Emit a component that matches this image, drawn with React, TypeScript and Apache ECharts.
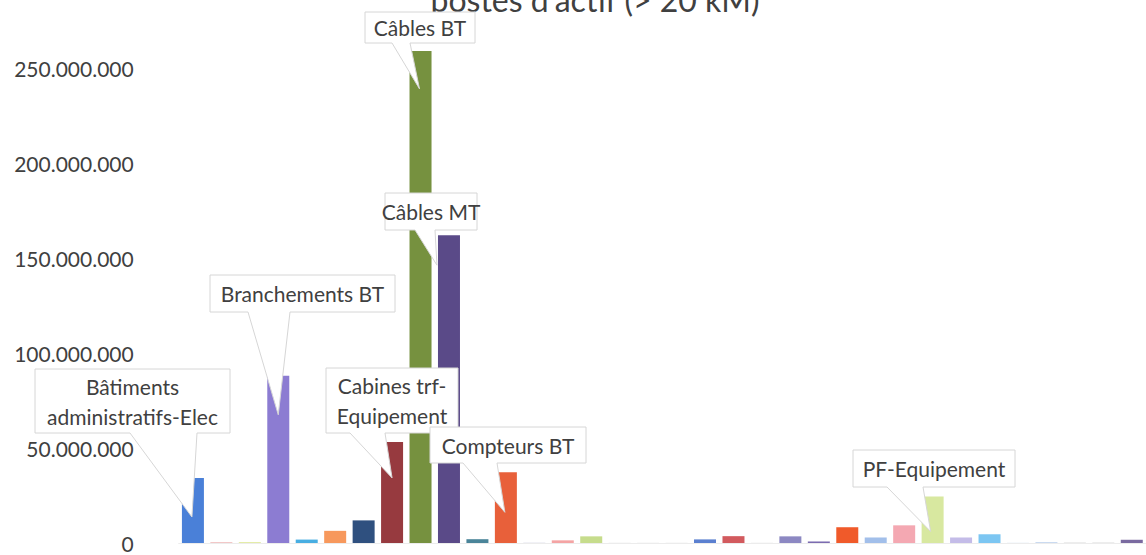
import React, { useEffect, useRef } from "react";
import * as echarts from "echarts";

const categories: string[] = [
  "Bâtiments administratifs-Elec",
  "Bâtiments administratifs-Génie civil",
  "Bâtiments techniques",
  "Branchements BT",
  "Branchements MT",
  "Cabines trf-Génie civil",
  "Cabines trf-Bâtiments",
  "Cabines trf-Equipement",
  "Câbles BT",
  "Câbles MT",
  "Câbles HT",
  "Compteurs BT",
  "Compteurs MT",
  "Disjoncteurs",
  "Eclairage public",
  "Equipements divers",
  "Groupes électrogènes",
  "Informatique",
  "Lignes aériennes BT",
  "Lignes aériennes MT",
  "Matériel de bureau",
  "Matériel de transport",
  "Mobilier",
  "Outillage",
  "PF-Génie civil",
  "PF-Bâtiments",
  "PF-Equipement",
  "Postes HTA",
  "Postes sources",
  "Protection",
  "Réseaux télécom",
  "Terrains",
  "Transformateurs",
  "Véhicules",
];

const values: number[] = [
  34200000, 500000, 500000, 88000000, 1800000, 6400000, 11900000, 53200000,
  259000000, 162000000, 2000000, 37200000, 300000, 1400000, 3500000, 200000,
  200000, 200000, 1900000, 3600000, 200000, 3500000, 800000, 8300000,
  2900000, 9300000, 24500000, 2900000, 4600000, 200000, 500000, 300000,
  300000, 1700000,
];

const barColors: string[] = [
  "#4a80d8", "#f2c4c4", "#e4eca8", "#8c7cd2", "#48aee2", "#f7985c", "#2f507f",
  "#973a3f", "#76913f", "#5a4a88", "#4a8499", "#e8603a", "#e6e6f0", "#f4a4a4",
  "#c6dc8c", "#eeeeee", "#eeeeee", "#eeeeee", "#5b80d0", "#d25a5e", "#eeeeee",
  "#8c88c2", "#7b6bb0", "#f05a2a", "#a2bfea", "#f4a8b2", "#d8e8a0", "#c4bce8",
  "#7cc6f2", "#e8eef8", "#c8d8f0", "#e0e0e0", "#e0e0e0", "#7a6aa0",
];

const yTickStep = 50000000;
const yMax = 300000000;
const titleText = "postes d'actif (> 20 kM)";

type Callout = {
  cat: string;
  text: string;
  box: [number, number, number, number];
  base: [number, number];
  tip: [number, number];
};

const callouts: Callout[] = [
  { cat: "Bâtiments administratifs-Elec", text: "Bâtiments\nadministratifs-Elec", box: [35, 369, 230, 433], base: [130, 197], tip: [-1, 39] },
  { cat: "Branchements BT", text: "Branchements BT", box: [210, 275, 395, 312], base: [248, 290], tip: [0, 39] },
  { cat: "Câbles BT", text: "Câbles BT", box: [365, 12, 475, 43], base: [392, 410], tip: [-1, 38] },
  { cat: "Câbles MT", text: "Câbles MT", box: [385, 193, 477, 230], base: [415, 435], tip: [-12, 30] },
  { cat: "Cabines trf-Equipement", text: "Cabines trf-\nEquipement", box: [326, 368, 458, 433], base: [350, 385], tip: [0, 36] },
  { cat: "Compteurs BT", text: "Compteurs BT", box: [430, 427, 586, 463], base: [463, 497], tip: [-1, 40] },
  { cat: "PF-Equipement", text: "PF-Equipement", box: [853, 450, 1015, 487], base: [887, 923], tip: [-2, 35] },
];

const fmt = (v: number) =>
  v >= yMax ? "" : String(Math.round(v)).replace(/\B(?=(\d{3})+(?!\d))/g, ".");

const OFF = 40; // the chart canvas starts 40px above the visible page

export default function App() {
  const ref = useRef<HTMLDivElement>(null);
  useEffect(() => {
    if (!ref.current) return;
    const chart = echarts.init(ref.current, undefined, { renderer: "svg" });
    const font = "Lato";
    chart.setOption({
      animation: false,
      backgroundColor: "#ffffff",
      grid: { left: 178.7, right: -5, top: 13, bottom: 12, containLabel: false },
      xAxis: {
        type: "category",
        data: categories,
        axisTick: { show: false },
        axisLabel: { show: false },
        axisLine: { show: true, lineStyle: { color: "#ececec", width: 1 } },
      },
      yAxis: {
        type: "value",
        min: 0,
        max: yMax,
        interval: yTickStep,
        splitLine: { show: false },
        axisLine: { show: false },
        axisTick: { show: false },
        axisLabel: {
          formatter: fmt,
          color: "#404040",
          fontFamily: font,
          fontSize: 21,
          margin: 45,
        },
      },
      series: [
        {
          type: "bar",
          barWidth: 22,
          data: values.map((v, i) => ({ value: v, itemStyle: { color: barColors[i] } })),
        },
      ],
    });

    const elements: any[] = [];
    callouts.forEach((c) => {
      const idx = categories.indexOf(c.cat);
      const p = chart.convertToPixel({ gridIndex: 0 }, [idx, values[idx]]) as number[];
      const tx = p[0] + c.tip[0];
      const ty = p[1] + c.tip[1];
      const x0 = c.box[0];
      const x1 = c.box[2];
      const y0 = c.box[1] + OFF;
      const y1 = c.box[3] + OFF;
      elements.push({
        type: "polygon",
        z: 100,
        shape: {
          points: [[x0, y0], [x1, y0], [x1, y1], [c.base[1], y1], [tx, ty], [c.base[0], y1], [x0, y1]],
        },
        style: { fill: "#ffffff", stroke: "#d6d6d6", lineWidth: 1 },
      });
      elements.push({
        type: "text",
        z: 101,
        x: (x0 + x1) / 2,
        y: (y0 + y1) / 2,
        style: {
          text: c.text,
          fill: "#404040",
          fontFamily: font,
          fontSize: 21,
          lineHeight: 30,
          align: "center",
          verticalAlign: "middle",
        },
      });
    });
    elements.push({
      type: "text",
      z: 99,
      x: 595,
      y: OFF - 1,
      style: {
        text: titleText,
        fill: "#404040",
        fontFamily: font,
        fontSize: 32,
        align: "center",
        verticalAlign: "middle",
      },
    });
    chart.setOption({ graphic: { elements } });
    return () => chart.dispose();
  }, []);
  return (
    <div
      ref={ref}
      style={{ position: "absolute", left: 0, top: -OFF, width: 1146, height: 555 + OFF }}
    />
  );
}
